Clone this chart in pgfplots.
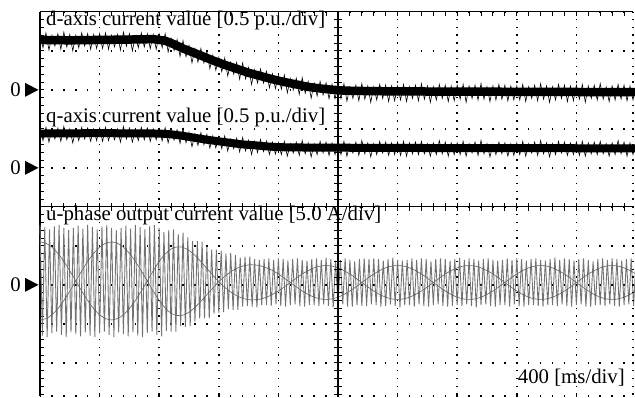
\documentclass[border=0pt]{standalone}
\usepackage{pgfplots}
\pgfplotsset{compat=1.18}
\usepackage{pgfplotstable}
\usepackage{fontspec}
\setmainfont{Liberation Serif}

% d-axis current [p.u.] : centre of the trace
\pgfplotstableread{
t id
0 0.640
200 0.635
400 0.640
600 0.645
760 0.650
840 0.630
880 0.600
920 0.566
960 0.530
1000 0.500
1080 0.440
1160 0.377
1240 0.320
1320 0.270
1400 0.218
1480 0.177
1560 0.136
1640 0.100
1720 0.070
1800 0.038
1880 0.018
1960 0.002
2040 -0.010
2200 -0.016
2400 -0.020
3200 -0.025
4000 -0.030
}\dcenter

% d-axis current [p.u.] : noise excursions
\pgfplotstableread{
t id
0 .71
20 .54
40 .73
60 .51
80 .70
100 .56
120 .72
140 .52
160 .74
180 .55
200 .71
220 .50
240 .70
260 .54
280 .73
300 .56
320 .72
340 .52
360 .71
380 .53
400 .72
420 .53
440 .73
460 .52
480 .70
500 .55
520 .71
540 .51
560 .74
580 .56
600 .72
620 .50
640 .69
660 .54
680 .73
700 .55
720 .72
740 .53
760 .71
780 .52
800 .715
820 .54
840 .72
860 .485
880 .66
900 .503
920 .646
940 .428
960 .63
980 .425
1000 .57
1020 .345
1040 .53
1060 .355
1080 .53
1100 .344
1120 .488
1140 .272
1160 .447
1180 .252
1200 .416
1220 .233
1240 .41
1260 .177
1280 .355
1300 .202
1320 .35
1340 .137
1360 .344
1380 .141
1400 .288
1420 .068
1440 .258
1460 .087
1480 .267
1500 .087
1520 .237
1540 .026
1560 .206
1580 .015
1600 .185
1620 .008
1640 .19
1660 -.038
1680 .145
1700 -.003
1720 .15
1740 -.058
1760 .154
1780 -.044
1800 .108
1820 -.107
1840 .088
1860 -.077
1880 .108
1900 -.066
1920 .09
1940 -.114
1960 .072
1980 -.112
2000 .064
2020 -.11
2040 .078
2060 -.145
2080 .04
2100 -.11
2120 .06
2140 -.14
2160 .08
2180 -.12
2200 .05
2220 -.16
2240 .04
2260 -.13
2280 .07
2300 -.11
2320 .06
2340 -.15
2360 .05
2380 -.14
2400 .05
2420 -.13
2440 .07
2460 -.15
2480 .04
2500 -.11
2520 .06
2540 -.14
2560 .08
2580 -.12
2600 .05
2620 -.16
2640 .04
2660 -.13
2680 .07
2700 -.11
2720 .06
2740 -.15
2760 .05
2780 -.14
2800 .06
2820 -.12
2840 .07
2860 -.16
2880 .05
2900 -.11
2920 .06
2940 -.13
2960 .08
2980 -.12
3000 .04
3020 -.15
3040 .05
3060 -.13
3080 .07
3100 -.12
3120 .06
3140 -.14
3160 .05
3180 -.13
3200 .05
3220 -.13
3240 .07
3260 -.15
3280 .04
3300 -.11
3320 .06
3340 -.14
3360 .08
3380 -.12
3400 .05
3420 -.16
3440 .04
3460 -.13
3480 .07
3500 -.11
3520 .06
3540 -.15
3560 .05
3580 -.14
3600 .06
3620 -.12
3640 .07
3660 -.16
3680 .05
3700 -.11
3720 .06
3740 -.13
3760 .08
3780 -.12
3800 .04
3820 -.15
3840 .05
3860 -.13
3880 .07
3900 -.12
3920 .06
3940 -.14
3960 .05
3980 -.13
4000 .05
}\dzig

% q-axis current [p.u.] : centre of the trace
\pgfplotstableread{
t iq
0 0.440
400 0.445
800 0.440
880 0.430
960 0.410
1040 0.385
1120 0.360
1200 0.340
1280 0.320
1360 0.300
1440 0.290
1520 0.275
1600 0.265
1800 0.260
2400 0.255
4000 0.250
}\qcenter

% q-axis current [p.u.] : noise excursions
\pgfplotstableread{
t iq
0 .50
20 .35
40 .52
60 .33
80 .49
100 .37
120 .51
140 .34
160 .53
180 .36
200 .50
220 .32
240 .49
260 .35
280 .52
300 .37
320 .51
340 .34
360 .50
380 .35
400 .51
420 .34
440 .52
460 .35
480 .49
500 .36
520 .50
540 .33
560 .53
580 .37
600 .51
620 .33
640 .48
660 .35
680 .52
700 .36
720 .51
740 .34
760 .50
780 .36
800 .50
820 .347
840 .515
860 .322
880 .48
900 .355
920 .49
940 .315
960 .50
980 .323
1000 .457
1020 .271
1040 .435
1060 .288
1080 .452
1100 .296
1120 .43
1140 .255
1160 .41
1180 .255
1200 .40
1220 .245
1240 .41
1260 .215
1280 .37
1300 .245
1320 .38
1340 .205
1360 .39
1380 .217
1400 .355
1420 .172
1440 .34
1460 .196
1480 .363
1500 .209
1520 .345
1540 .172
1560 .33
1580 .177
1600 .325
1620 .17
1640 .34
1660 .15
1680 .31
1700 .19
1720 .33
1740 .16
1760 .35
1780 .18
1800 .32
1820 .14
1840 .31
1860 .17
1880 .34
1900 .19
1920 .33
1940 .16
1960 .32
1980 .17
2000 .32
2020 .17
2040 .34
2060 .15
2080 .31
2100 .19
2120 .33
2140 .16
2160 .35
2180 .18
2200 .32
2220 .14
2240 .31
2260 .17
2280 .34
2300 .19
2320 .33
2340 .16
2360 .32
2380 .17
2400 .33
2420 .16
2440 .34
2460 .15
2480 .32
2500 .18
2520 .33
2540 .17
2560 .34
2580 .18
2600 .31
2620 .15
2640 .32
2660 .17
2680 .35
2700 .18
2720 .33
2740 .15
2760 .32
2780 .17
2800 .32
2820 .17
2840 .34
2860 .15
2880 .31
2900 .19
2920 .33
2940 .16
2960 .35
2980 .18
3000 .31
3020 .14
3040 .30
3060 .17
3080 .33
3100 .18
3120 .32
3140 .15
3160 .31
3180 .16
3200 .32
3220 .17
3240 .34
3260 .15
3280 .31
3300 .19
3320 .33
3340 .16
3360 .35
3380 .18
3400 .32
3420 .14
3440 .31
3460 .17
3480 .34
3500 .19
3520 .33
3540 .16
3560 .32
3580 .17
3600 .33
3620 .16
3640 .34
3660 .15
3680 .32
3700 .18
3720 .33
3740 .17
3760 .34
3780 .18
3800 .31
3820 .15
3840 .32
3860 .17
3880 .35
3900 .18
3920 .33
3940 .15
3960 .32
3980 .17
4000 .32
}\qzig

% u-phase output current [A]
\pgfplotstableread{
t iu
0 7.7
16 -6.5
32 7.4
48 -6.7
64 7.1
80 -6.2
96 7.5
112 -6.0
128 7.7
144 -6.4
160 7.3
176 -6.7
192 7.0
208 -6.1
224 7.3
240 -6.3
256 7.6
272 -6.6
288 7.2
304 -6.1
320 7.7
336 -6.5
352 7.4
368 -6.7
384 7.1
400 -6.2
416 7.5
432 -6.0
448 7.7
464 -6.4
480 7.3
496 -6.7
512 7.0
528 -6.1
544 7.3
560 -6.3
576 7.6
592 -6.6
608 7.2
624 -6.1
640 7.7
656 -6.5
672 7.4
688 -6.7
704 7.1
720 -6.2
736 7.5
752 -6.0
768 7.7
784 -6.4
800 7.3
816 -6.6
832 6.8
848 -5.9
864 7.0
880 -6.0
896 7.1
912 -6.0
928 6.5
944 -5.3
960 6.7
976 -5.4
992 6.1
1008 -5.3
1024 5.6
1040 -4.7
1056 5.6
1072 -4.3
1088 5.5
1104 -4.3
1120 4.9
1136 -4.3
1152 4.5
1168 -3.7
1184 4.5
1200 -3.6
1216 4.4
1232 -3.5
1248 4.0
1264 -3.1
1280 4.1
1296 -3.2
1312 3.8
1328 -3.2
1344 3.5
1360 -2.8
1376 3.6
1392 -2.7
1408 3.6
1424 -2.8
1440 3.3
1456 -2.9
1472 3.2
1488 -2.6
1504 3.3
1520 -2.6
1536 3.4
1552 -2.7
1568 3.2
1584 -2.5
1600 3.4
1616 -2.7
1632 3.3
1648 -2.8
1664 3.1
1680 -2.6
1696 3.3
1712 -2.5
1728 3.4
1744 -2.7
1760 3.2
1776 -2.8
1792 3.1
1808 -2.6
1824 3.3
1840 -2.6
1856 3.4
1872 -2.7
1888 3.2
1904 -2.5
1920 3.5
1936 -2.7
1952 3.3
1968 -2.9
1984 3.1
2000 -2.6
2016 3.2
2032 -2.5
2048 3.4
2064 -2.8
2080 3.2
2096 -2.8
2112 3.0
2128 -2.6
2144 3.3
2160 -2.7
2176 3.4
2192 -2.7
2208 3.3
2224 -2.5
2240 3.4
2256 -2.6
2272 3.3
2288 -2.8
2304 3.1
2320 -2.7
2336 3.3
2352 -2.5
2368 3.5
2384 -2.7
2400 3.2
2416 -2.9
2432 3.1
2448 -2.6
2464 3.2
2480 -2.6
2496 3.4
2512 -2.8
2528 3.2
2544 -2.5
2560 3.4
2576 -2.7
2592 3.3
2608 -2.8
2624 3.0
2640 -2.6
2656 3.3
2672 -2.5
2688 3.4
2704 -2.7
2720 3.3
2736 -2.8
2752 3.1
2768 -2.7
2784 3.3
2800 -2.6
2816 3.5
2832 -2.7
2848 3.2
2864 -2.5
2880 3.4
2896 -2.7
2912 3.3
2928 -2.9
2944 3.1
2960 -2.6
2976 3.3
2992 -2.5
3008 3.4
3024 -2.7
3040 3.2
3056 -2.8
3072 3.1
3088 -2.6
3104 3.2
3120 -2.6
3136 3.4
3152 -2.8
3168 3.2
3184 -2.5
3200 3.4
3216 -2.7
3232 3.3
3248 -2.8
3264 3.1
3280 -2.6
3296 3.3
3312 -2.6
3328 3.4
3344 -2.7
3360 3.2
3376 -2.8
3392 3.1
3408 -2.6
3424 3.3
3440 -2.6
3456 3.5
3472 -2.7
3488 3.2
3504 -2.5
3520 3.4
3536 -2.7
3552 3.3
3568 -2.8
3584 3.1
3600 -2.6
3616 3.3
3632 -2.5
3648 3.4
3664 -2.8
3680 3.2
3696 -2.8
3712 3.0
3728 -2.6
3744 3.3
3760 -2.6
3776 3.4
3792 -2.7
3808 3.2
3824 -2.5
3840 3.4
3856 -2.7
3872 3.3
3888 -2.8
3904 3.1
3920 -2.6
3936 3.3
3952 -2.5
3968 3.4
3984 -2.7
4000 3.2
}\utab

% u-phase current [A] : darker beat traces seen inside the envelope
\pgfplotstableread{
t up lo
0 5.50 -4.50
40 5.33 -4.33
80 4.83 -3.83
120 4.04 -3.04
160 3.00 -2.00
200 1.80 -0.80
240 0.50 0.50
280 -0.80 1.80
320 -2.00 3.00
360 -3.04 4.04
400 -3.83 4.83
440 -4.33 5.33
480 -4.50 5.50
520 -4.33 5.33
560 -3.83 4.83
600 -3.04 4.04
640 -2.00 3.00
680 -0.80 1.80
720 0.50 0.50
760 1.80 -0.80
800 3.00 -2.00
840 3.94 -2.96
880 4.60 -3.64
920 4.87 -3.93
960 4.80 -3.88
1000 4.41 -3.51
1040 3.77 -2.89
1080 2.98 -2.12
1120 2.10 -1.26
1160 1.23 -0.41
1200 0.40 0.40
1240 -0.33 1.10
1280 -0.93 1.67
1320 -1.40 2.11
1360 -1.72 2.40
1400 -1.90 2.56
1440 -1.92 2.56
1480 -1.82 2.44
1520 -1.58 2.18
1560 -1.23 1.83
1600 -0.79 1.39
1640 -0.26 0.86
1680 0.30 0.30
1720 0.86 -0.26
1760 1.39 -0.79
1800 1.83 -1.23
1840 2.18 -1.58
1880 2.40 -1.80
1920 2.47 -1.87
1960 2.40 -1.80
2000 2.18 -1.58
2040 1.83 -1.23
2080 1.39 -0.79
2120 0.86 -0.26
2160 0.30 0.30
2200 -0.26 0.86
2240 -0.79 1.39
2280 -1.23 1.83
2320 -1.58 2.18
2360 -1.80 2.40
2400 -1.87 2.47
2440 -1.80 2.40
2480 -1.58 2.18
2520 -1.23 1.83
2560 -0.79 1.39
2600 -0.26 0.86
2640 0.30 0.30
2680 0.86 -0.26
2720 1.39 -0.79
2760 1.83 -1.23
2800 2.18 -1.58
2840 2.40 -1.80
2880 2.47 -1.87
2920 2.40 -1.80
2960 2.18 -1.58
3000 1.83 -1.23
3040 1.39 -0.79
3080 0.86 -0.26
3120 0.30 0.30
3160 -0.26 0.86
3200 -0.79 1.39
3240 -1.23 1.83
3280 -1.58 2.18
3320 -1.80 2.40
3360 -1.87 2.47
3400 -1.80 2.40
3440 -1.58 2.18
3480 -1.23 1.83
3520 -0.79 1.39
3560 -0.26 0.86
3600 0.30 0.30
3640 0.86 -0.26
3680 1.39 -0.79
3720 1.83 -1.23
3760 2.18 -1.58
3800 2.40 -1.80
3840 2.47 -1.87
3880 2.40 -1.80
3920 2.18 -1.58
3960 1.83 -1.23
4000 1.39 -0.79
}\ubeat

\begin{document}
\begin{tikzpicture}
\useasboundingbox (0,0) rectangle (635pt,397pt);
\begin{axis}[
  at={(40pt,1pt)}, anchor=south west,
  scale only axis, width=593pt, height=384.15pt,
  xmin=0, xmax=9.95, ymin=-4.85, ymax=5,
  axis x line*=top, axis y line*=left,
  axis line style={black, line width=1.3pt},
  xtick={0,1,...,9}, ytick={-4,-3,...,5},
  minor xtick={0,0.2,...,9.9}, minor ytick={-4.8,-4.6,...,5},
  xticklabels={,,}, yticklabels={,,},
  tick align=inside,
  major tick length=4.5pt, minor tick length=4.5pt,
  tick style={black, line width=1pt},
  xmajorgrids, ymajorgrids,
  major x grid style={black, line width=1.5pt, dash pattern=on 1.5pt off 6.3pt, dash phase=6.6pt},
  major y grid style={black, line width=1.5pt, dash pattern=on 1.5pt off 10.42pt, dash phase=0.75pt},
  clip=false,
]
\addplot[no marks, black!55, line width=0.9pt] table[x expr=\thisrow{t}/400, y expr=\thisrow{iu}/5-2] \utab;
\addplot[no marks, smooth, black!62, line width=0.6pt] table[x expr=\thisrow{t}/400, y expr=\thisrow{up}/5-2] \ubeat;
\addplot[no marks, smooth, black!62, line width=0.6pt] table[x expr=\thisrow{t}/400, y expr=\thisrow{lo}/5-2] \ubeat;
\addplot[no marks, black, line width=8.5pt, line join=round] table[x expr=\thisrow{t}/400, y expr=\thisrow{id}/0.5+3] \dcenter;
\addplot[no marks, black, line width=0.6pt] table[x expr=\thisrow{t}/400, y expr=\thisrow{id}/0.5+3] \dzig;
\addplot[no marks, black, line width=8pt, line join=round] table[x expr=\thisrow{t}/400, y expr=\thisrow{iq}/0.5+1] \qcenter;
\addplot[no marks, black, line width=0.6pt] table[x expr=\thisrow{t}/400, y expr=\thisrow{iq}/0.5+1] \qzig;
\end{axis}
% centre cross-hair with ticks
\draw[line width=1.3pt] (338pt,1pt) -- (338pt,385.15pt);
\draw[line width=1.3pt] (40pt,190.15pt) -- (633pt,190.15pt);
\foreach \k in {-24,...,25} \draw[line width=1pt] (334pt,{190.15pt+\k*7.8pt}) -- (342pt,{190.15pt+\k*7.8pt});
\foreach \k in {0,...,49} \draw[line width=1pt] ({40pt+\k*11.92pt},186.15pt) -- ({40pt+\k*11.92pt},194.15pt);
% right and bottom dotted borders
\draw[line width=1.5pt, dash pattern=on 1.5pt off 6.3pt, dash phase=6.6pt] (633pt,1pt) -- (633pt,385.15pt);
\draw[line width=1.5pt, dash pattern=on 1.5pt off 10.42pt, dash phase=0.75pt] (40pt,1pt) -- (633pt,1pt);
% zero markers
\foreach \y in {307.15,229.15,112.15} {
  \fill (25pt,{\y pt+7pt}) -- (38.5pt,\y pt) -- (25pt,{\y pt-7pt}) -- cycle;
  \node[anchor=base east, inner sep=0, font=\fontsize{20.8}{24}\selectfont] at (21pt,{\y pt-6.8pt}) {0};
}
% captions
\begin{scope}[every node/.style={inner sep=0, font=\fontsize{20.8}{24}\selectfont}]
\node[anchor=base west] at (46pt,371pt) {d-axis current value [0.5 p.u./div]};
\node[anchor=base west] at (46pt,274pt) {q-axis current value [0.5 p.u./div]};
\node[anchor=base west] at (46pt,176pt) {u-phase output current value [5.0 A/div]};
\node[anchor=base east] at (625pt,14pt) {400 [ms/div]};
\end{scope}
\end{tikzpicture}
\end{document}
